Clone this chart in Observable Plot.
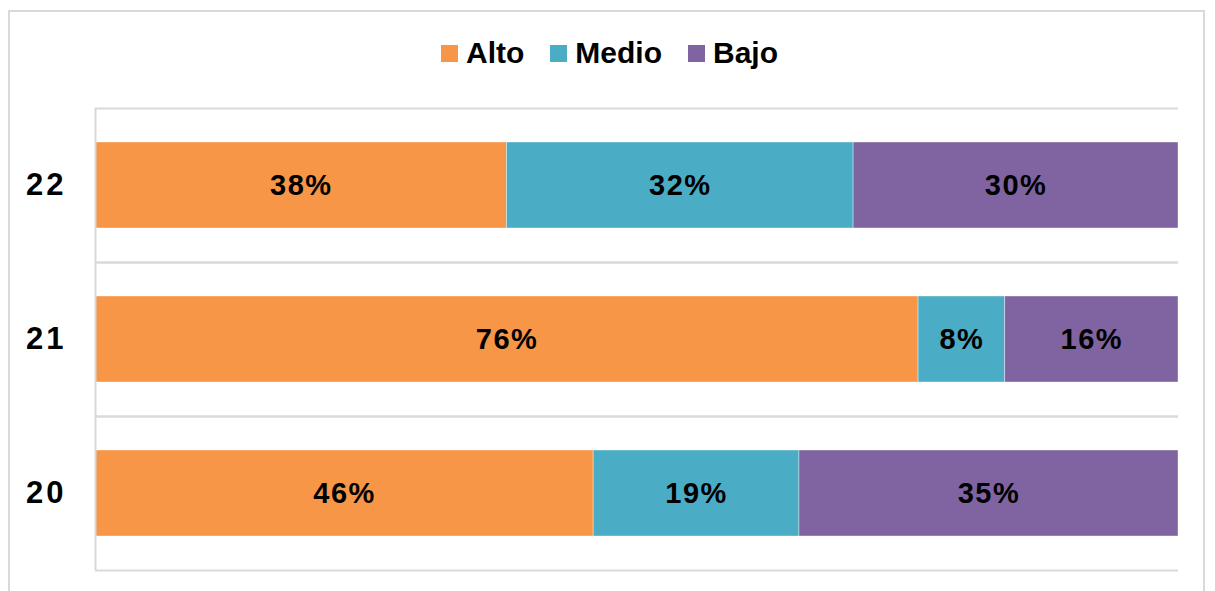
<!DOCTYPE html>
<html>
<head>
<meta charset="utf-8">
<script src="https://cdn.jsdelivr.net/npm/d3@7"></script>
<script src="https://cdn.jsdelivr.net/npm/@observablehq/plot@0.6"></script>
<style>
  html, body { margin: 0; padding: 0; background: #fff; }
  #wrap { position: relative; width: 1215px; height: 591px; overflow: hidden; font-family: "Liberation Sans", Arial, sans-serif; }
  #border { position: absolute; left: 8px; top: 10px; width: 1197px; height: 700px; border: 2px solid #d9d9d9; box-sizing: border-box; }
  #legend { position: absolute; left: 441px; top: 36px; display: flex; align-items: center; font-size: 30px; font-weight: bold; color: #000; }
  #legend .item { display: flex; align-items: center; margin-right: 26px; }
  #legend .sw { width: 17px; height: 17px; margin-right: 8px; }
  #chart { position: absolute; left: 0; top: 0; }
  #chart g[aria-label="text"] text { letter-spacing: 1.5px; }
  #chart g[aria-label^="fy-axis"] text { letter-spacing: 3px; }
</style>
</head>
<body>
<div id="wrap">
  <div id="border"></div>
  <div id="legend"></div>
  <div id="chart"></div>
</div>
<script>
const years = ["22", "21", "20"];
const levels = ["Alto", "Medio", "Bajo"];
const colors = ["#F79646", "#4BACC6", "#8064A2"];
const alto = [38, 76, 46];
const medio = [32, 8, 19];
const bajo = [30, 16, 35];

const series = [alto, medio, bajo];
const data = [];
years.forEach((yr, i) => {
  levels.forEach((lv, j) => {
    data.push({year: yr, level: lv, value: series[j][i]});
  });
});

const legend = document.getElementById("legend");
levels.forEach((lv, j) => {
  const it = document.createElement("div");
  it.className = "item";
  const sw = document.createElement("div");
  sw.className = "sw";
  sw.style.background = colors[j];
  const t = document.createElement("span");
  t.textContent = lv;
  it.appendChild(sw);
  it.appendChild(t);
  legend.appendChild(it);
});

const chart = Plot.plot({
  width: 1215,
  height: 591,
  marginLeft: 95,
  marginRight: 37,
  marginTop: 107,
  marginBottom: 21,
  style: {fontFamily: "'Liberation Sans', Arial, sans-serif", fontSize: "31px", fontWeight: "bold", color: "#000", background: "transparent"},
  x: {domain: [0, 100], axis: null},
  y: {domain: [0, 1], axis: null},
  fy: {domain: years, padding: 0, axis: "left", tickSize: 0, tickPadding: 29, label: null},
  color: {domain: levels, range: colors},
  marks: [
    Plot.ruleY([0, 1], {stroke: "#d9d9d9", strokeWidth: 2}),
    Plot.barX(data, Plot.stackX({x: "value", fy: "year", fill: "level", z: "level", order: levels, insetTop: 34, insetBottom: 34, stroke: "#ffffff", strokeOpacity: 0.5, strokeWidth: 0.75})),
    Plot.ruleX([0], {stroke: "#d9d9d9", strokeWidth: 2}),
    Plot.text(data, Plot.stackX({x: "value", fy: "year", z: "level", order: levels, text: d => d.value + "%", fontSize: 29, fontWeight: "bold", fill: "#000"}))
  ]
});
document.getElementById("chart").appendChild(chart);
</script>
</body>
</html>
